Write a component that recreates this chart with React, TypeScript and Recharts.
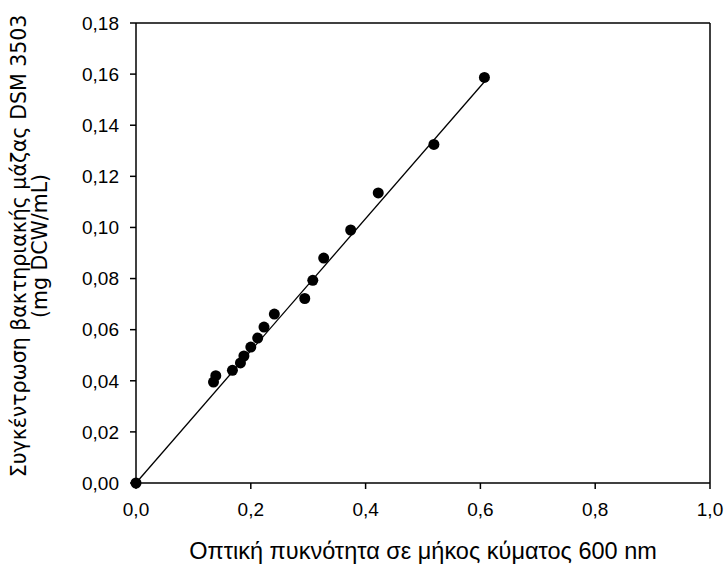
import React from 'react';
import { ComposedChart, Scatter, Line, XAxis, YAxis, ReferenceLine } from 'recharts';

// optical density at 600 nm vs dry cell weight
const odValues = [0, 0.135, 0.139, 0.168, 0.182, 0.188, 0.2, 0.212, 0.223, 0.241, 0.294, 0.308, 0.327, 0.374, 0.422, 0.519, 0.607];
const dcwValues = [0, 0.0395, 0.042, 0.0441, 0.047, 0.0497, 0.0532, 0.0567, 0.061, 0.0661, 0.0722, 0.0793, 0.088, 0.099, 0.1135, 0.1325, 0.1587];

// regression line end points
const fitX = [0, 0.607];
const fitY = [0, 0.157];

const xTicks = [0, 0.2, 0.4, 0.6, 0.8, 1.0];
const yTicks = [0, 0.02, 0.04, 0.06, 0.08, 0.1, 0.12, 0.14, 0.16, 0.18];

const xTitle = 'Οπτική πυκνότητα σε μήκος κύματος 600 nm';
const yTitle1 = 'Συγκέντρωση βακτηριακής μάζας DSM 3503';
const yTitle2 = '(mg DCW/mL)';

const points = odValues.map((x, i) => ({ x, y: dcwValues[i] }));
const fitLine = fitX.map((x, i) => ({ x, y: fitY[i] }));

const tickFont = { fontSize: 19, fill: '#000', fontFamily: '"Liberation Sans", Arial, sans-serif' };

const Dot = (props: any) => <circle cx={props.cx} cy={props.cy} r={5.5} fill="#000" />;

const App: React.FC = () => {
  return (
    <div style={{ position: 'absolute', left: 0, top: 0, background: '#fff' }}>
      <ComposedChart width={725} height={565} margin={{ top: 23, right: 15, bottom: 0, left: 0 }}>
        <XAxis
          type="number"
          dataKey="x"
          domain={[0, 1]}
          ticks={xTicks}
          interval={0}
          height={82}
          tickSize={6}
          tickMargin={14}
          stroke="#000"
          strokeWidth={1.5}
          tick={tickFont}
          tickFormatter={(v: number) => v.toFixed(1).replace('.', ',')}
          label={{
            content: (p: any) => {
              const vb = p.viewBox;
              return (
                <text x={vb.x + vb.width / 2} y={559} textAnchor="middle" fontSize={23.5}
                  fontFamily='"Liberation Sans", Arial, sans-serif' fill="#000">
                  {xTitle}
                </text>
              );
            },
          }}
        />
        <YAxis
          type="number"
          dataKey="y"
          domain={[0, 0.18]}
          ticks={yTicks}
          interval={0}
          width={136}
          tickSize={6}
          tickMargin={11}
          stroke="#000"
          strokeWidth={1.5}
          tick={tickFont}
          tickFormatter={(v: number) => v.toFixed(2).replace('.', ',')}
          label={{
            content: () => (
              <g fontFamily='"DejaVu Sans", Verdana, sans-serif' fontSize={20.5} fill="#000">
                <text x={26} y={246} textAnchor="middle" transform="rotate(-90, 26, 246)">{yTitle1}</text>
                <text x={47} y={246} textAnchor="middle" transform="rotate(-90, 47, 246)">{yTitle2}</text>
              </g>
            ),
          }}
        />
        <ReferenceLine y={0.18} stroke="#000" strokeWidth={1.5} />
        <ReferenceLine x={1} stroke="#000" strokeWidth={1.5} />
        <Line
          data={fitLine}
          dataKey="y"
          stroke="#000"
          strokeWidth={1.3}
          dot={false}
          activeDot={false}
          isAnimationActive={false}
        />
        <Scatter data={points} dataKey="y" fill="#000" shape={Dot} isAnimationActive={false} />
      </ComposedChart>
    </div>
  );
};

export default App;
